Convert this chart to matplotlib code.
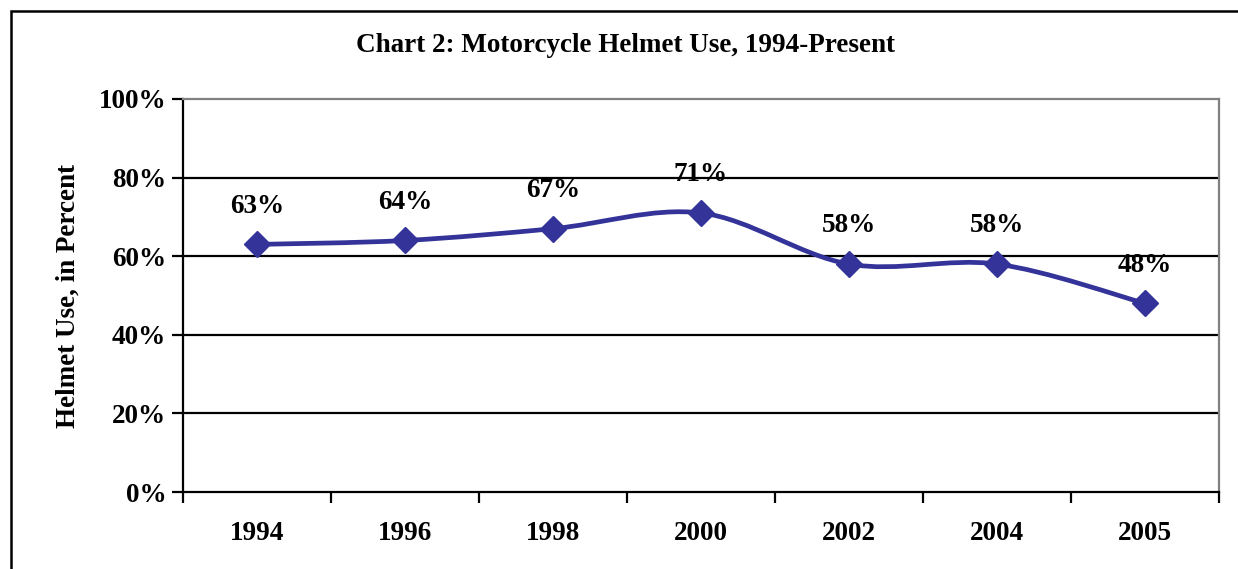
import numpy as np
import matplotlib.pyplot as plt
from matplotlib.path import Path
from matplotlib.patches import PathPatch, Rectangle

years = ['1994', '1996', '1998', '2000', '2002', '2004', '2005']
helmet_use = [63, 64, 67, 71, 58, 58, 48]
y_ticks = [0, 20, 40, 60, 80, 100]

plt.rcParams['font.family'] = ['Liberation Serif', 'DejaVu Serif']
plt.rcParams['font.weight'] = 'bold'

line_color = '#333399'
fs = 19.5


def smooth_path(xs, ys):
    # excel style smoothed line: bezier through each point
    pts = np.column_stack([xs, ys]).astype(float)
    n = len(pts)
    verts = [pts[0]]
    codes = [Path.MOVETO]
    for i in range(n - 1):
        p0 = pts[i - 1] if i > 0 else pts[i]
        p1 = pts[i]
        p2 = pts[i + 1]
        p3 = pts[i + 2] if i + 2 < n else pts[i + 1]
        c1 = p1 + (p2 - p0) / 6.0
        c2 = p2 - (p3 - p1) / 6.0
        verts += [c1, c2, p2]
        codes += [Path.CURVE4] * 3
    return Path(verts, codes)


fig = plt.figure(figsize=(12.38, 5.69), dpi=100)
ax = fig.add_axes([183 / 1238, 1 - 492 / 569, 1036 / 1238, 393 / 569])

x = np.arange(len(years))
ax.set_xlim(-0.5, len(years) - 0.5)
ax.set_ylim(0, 100)

ax.set_yticks(y_ticks)
ax.set_yticklabels(['%d%%' % v for v in y_ticks])
for v in y_ticks[1:-1]:
    ax.axhline(v, color='black', lw=1.6, zorder=1)

ax.set_xticks(x)
ax.set_xticklabels(years)
ax.set_xticks(np.arange(len(years) + 1) - 0.5, minor=True)
ax.tick_params(axis='x', which='major', length=0, pad=21, labelsize=fs)
ax.tick_params(axis='x', which='minor', length=8, width=1.6, direction='out')
ax.tick_params(axis='y', length=8, width=1.6, direction='out', labelsize=fs, pad=4)

for s in ['left', 'bottom']:
    ax.spines[s].set_color('black')
    ax.spines[s].set_linewidth(1.6)
for s in ['top', 'right']:
    ax.spines[s].set_color('#808080')
    ax.spines[s].set_linewidth(1.6)

ax.add_patch(PathPatch(smooth_path(x, helmet_use), fill=False, edgecolor=line_color,
                       lw=3.4, zorder=3))
ax.plot(x, helmet_use, linestyle='none', marker='D', markersize=13,
        color=line_color, zorder=4)

for xi, v in zip(x, helmet_use):
    ax.annotate('%d%%' % v, (xi, v), xytext=(0, 27.5), textcoords='offset points',
                ha='center', va='center', fontsize=fs, fontweight='bold', zorder=5)

ax.set_ylabel('Helmet Use, in Percent', fontsize=fs, fontweight='bold', labelpad=13)

fig.text(626 / 1238, 1 - 45 / 569, 'Chart 2: Motorcycle Helmet Use, 1994-Present',
         ha='center', va='center', fontsize=fs, fontweight='bold')

# outer chart frame, cut off on right and bottom
fig.patches.append(Rectangle((11 / 1238, -0.05), 1.2, 1 - 11 / 569 + 0.05,
                             transform=fig.transFigure, fill=False,
                             edgecolor='black', lw=1.8))

fig.savefig('out.png', dpi=100)
